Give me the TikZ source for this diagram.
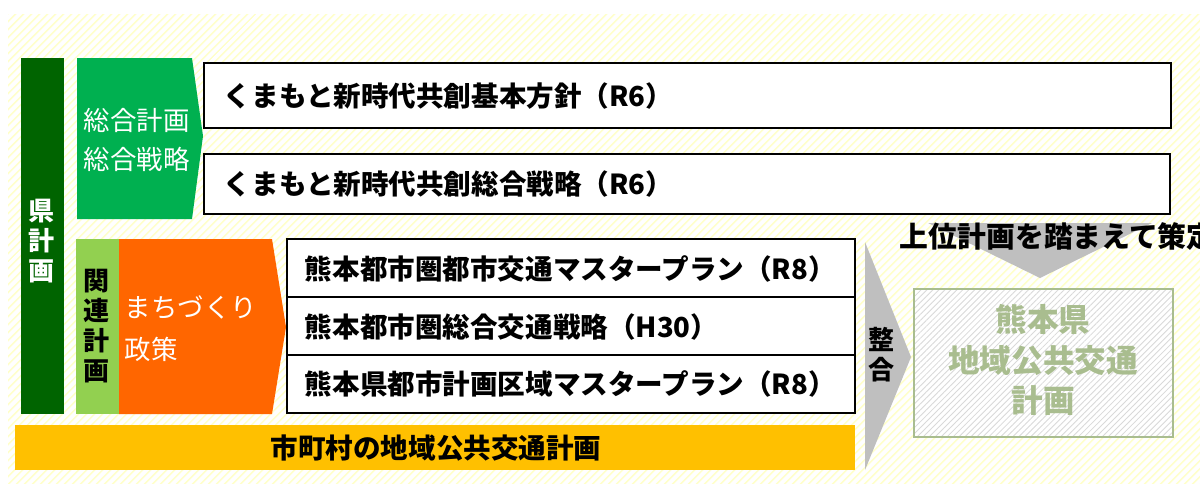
\documentclass[tikz,border=0pt]{standalone}
\usepackage{fontspec}
\setmainfont{Noto Sans CJK JP}
\usepackage{tikz}
\usetikzlibrary{patterns.meta}

\definecolor{kendark}{RGB}{0,100,0}
\definecolor{sogogreen}{HTML}{00B050}
\definecolor{kanrengreen}{HTML}{92D050}
\definecolor{machiorange}{HTML}{FF6600}
\definecolor{shigold}{HTML}{FFC000}
\definecolor{arrowgray}{HTML}{BFBFBF}
\definecolor{planolive}{HTML}{A9BD8F}

\tikzset{
  plan/.style={draw=black, line width=1.5pt, fill=white},
  plantext/.style={anchor=west, font=\fontsize{19.6}{22}\selectfont\bfseries},
  sidetext/.style={anchor=west, align=left, text=white, font=\fontsize{18.8}{28}\selectfont},
  vtext/.style={align=center, font=\fontsize{18.5}{21.5}\selectfont\bfseries},
}

\begin{document}
\begin{tikzpicture}[x=0.025cm, y=-0.025cm]
    \useasboundingbox (0,0) rectangle (1200,483);

    % Background
    \fill[white] (0,0) rectangle (1200,483);
    \path[pattern={Lines[angle=45, distance=4pt, line width=1.3pt]}, pattern color=yellow!20]
        (8,14) rectangle (1200,483);

    % Prefecture plans
    \fill[kendark] (21,58) rectangle (64,414);
    \node[vtext, text=white] (kenkeikaku) at (42,241) {県\\計\\画};

    \fill[sogogreen] (77,58) -- (192,58) -- (203,136) -- (192,219) -- (77,219) -- cycle;
    \node[sidetext] (sogo) at (79,140) {総合計画\\総合戦略};

    \draw[plan] (204,63) rectangle (1171,128);
    \node[plantext] (kihon) at (219,96) {くまもと新時代共創基本方針（R6）};
    \draw[plan] (204,154) rectangle (1170,214);
    \node[plantext] (senryaku) at (219,184) {くまもと新時代共創総合戦略（R6）};

    % Related plans
    \fill[kanrengreen] (76,239) rectangle (119,414);
    \node[vtext] (kanren) at (97,326) {関\\連\\計\\画};

    \fill[machiorange] (119,239) -- (272,239) -- (286,327) -- (272,414) -- (119,414) -- cycle;
    \node[sidetext, font=\fontsize{18.8}{30}\selectfont] (machi) at (120,329) {まちづくり\\政策};

    \draw[plan] (287,239) rectangle (855,413);
    \draw[line width=1.5pt] (287,297) -- (855,297);
    \draw[line width=1.5pt] (287,355) -- (855,355);
    \node[plantext] (toshiMP) at (300,269) {熊本都市圏都市交通マスタープラン（R8）};
    \node[plantext] (sogokotsu) at (300,327) {熊本都市圏総合交通戦略（H30）};
    \node[plantext] (kenMP) at (300,384) {熊本県都市計画区域マスタープラン（R8）};

    % Municipal plans
    \fill[shigold] (15,425) rectangle (855,470);
    \node[font=\fontsize{19.6}{22}\selectfont\bfseries] (shichoson) at (436,448) {市町村の地域公共交通計画};

    % Arrows
    \fill[arrowgray] (865,242) -- (911,357) -- (865,470) -- cycle;
    \node[vtext] (seigo) at (881,355) {整\\合};

    \fill[arrowgray] (928,223) -- (1152,223) -- (1040,278) -- cycle;
    \node[anchor=west, font=\fontsize{20.5}{24}\selectfont\bfseries] (joi) at (895,237) {上位計画を踏まえて策定};

    % Target plan
    \fill[white] (914,289) rectangle (1173,437);
    \path[pattern={Lines[angle=45, distance=3pt, line width=0.6pt]}, pattern color=gray!30]
        (914,289) rectangle (1173,437);
    \draw[planolive, line width=1.5pt] (914,289) rectangle (1173,437);
    \node[align=center, text=planolive, font=\fontsize{22.5}{28.5}\selectfont\bfseries] (kotsukeikaku) at (1043,360)
        {熊本県\\地域公共交通\\計画};
\end{tikzpicture}
\end{document}
